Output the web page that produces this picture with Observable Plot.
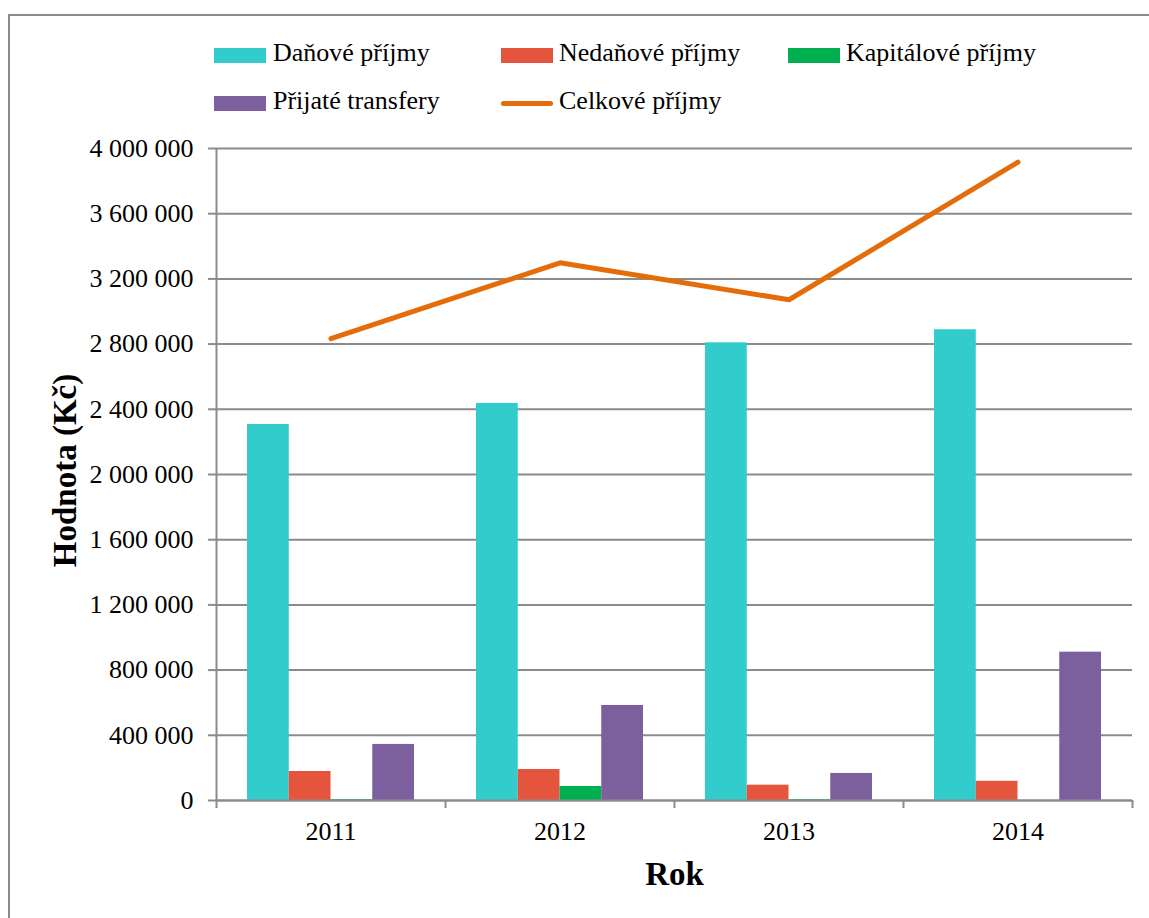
<!DOCTYPE html>
<html>
<head>
<meta charset="utf-8">
<script src="https://cdn.jsdelivr.net/npm/d3@7"></script>
<script src="https://cdn.jsdelivr.net/npm/@observablehq/plot@0.6"></script>
<style>
  html, body { margin: 0; padding: 0; background: #fff; overflow: hidden; }
  body { width: 1149px; height: 918px; position: relative; font-family: "Liberation Serif", "Times New Roman", serif; }
  #frame { position: absolute; left: 8px; top: 14px; width: 1300px; height: 1100px; border: 2px solid #8b8b8b; pointer-events: none; }
  #legend { position: relative; height: 130px; }
  .sw { position: absolute; }
  .lt { position: absolute; font-size: 26px; line-height: 26px; color: #000; white-space: nowrap; }
  #chart { position: relative; }
</style>
</head>
<body>
<div id="frame"></div>
<div id="legend"></div>
<div id="chart"></div>
<script>
// ---- data ----
const years = [2011, 2012, 2013, 2014];
const seriesNames = ["Daňové příjmy", "Nedaňové příjmy", "Kapitálové příjmy", "Přijaté transfery"];
const danove = [2307000, 2436000, 2808000, 2888000];
const nedanove = [178000, 190000, 94000, 118000];
const kapitalove = [4000, 86000, 4000, 0];
const transfery = [344000, 583000, 166000, 910000];
const lineName = "Celkové příjmy";
const celkove = [2833000, 3299000, 3072000, 3916000];
const yTicks = [0, 400000, 800000, 1200000, 1600000, 2000000, 2400000, 2800000, 3200000, 3600000, 4000000];
const yLabel = "Hodnota (Kč)";
const xLabel = "Rok";

const colors = ["#33CCCC", "#E5553D", "#00B050", "#7C609E"];
const lineColor = "#E46C0A";
const gray = "#8b8b8b";

// ---- legend (HTML) ----
const legend = document.getElementById("legend");
const legendItems = [
  {name: seriesNames[0], color: colors[0], kind: "rect", sx: 214, tx: 273, row: 0},
  {name: seriesNames[1], color: colors[1], kind: "rect", sx: 501, tx: 559, row: 0},
  {name: seriesNames[2], color: colors[2], kind: "rect", sx: 788, tx: 846, row: 0},
  {name: seriesNames[3], color: colors[3], kind: "rect", sx: 214, tx: 273, row: 1},
  {name: lineName, color: lineColor, kind: "line", sx: 501, tx: 559, row: 1}
];
for (const it of legendItems) {
  const sw = document.createElement("div");
  sw.className = "sw";
  const cy = it.row === 0 ? 55.5 : 103;
  if (it.kind === "rect") {
    sw.style.cssText = `left:${it.sx}px;top:${cy - 7.5}px;width:52px;height:15px;background:${it.color};`;
  } else {
    sw.style.cssText = `left:${it.sx}px;top:${cy - 2.5}px;width:52px;height:5px;border-radius:2.5px;background:${it.color};`;
  }
  legend.appendChild(sw);
  const t = document.createElement("div");
  t.className = "lt";
  t.textContent = it.name;
  t.style.left = it.tx + "px";
  t.style.top = (it.row === 0 ? 40.2 : 87.7) + "px";
  legend.appendChild(t);
}

// ---- build tables ----
const seriesValues = [danove, nedanove, kapitalove, transfery];
const bars = [];
seriesNames.forEach((s, i) => {
  years.forEach((y, j) => bars.push({year: y, series: s, idx: i, value: seriesValues[i][j]}));
});
const totals = years.map((y, j) => ({year: y, value: celkove[j]}));
const bounds = [years[0] - 0.5, ...years.map(y => y + 0.5)];

const barOffset = 0.1354; // fraction of category width before first bar
const barW = 0.1823;      // fraction of category width per bar

const fmt = d => d3.format(",")(d).replace(/,/g, " ");

const chart = Plot.plot({
  width: 1149,
  height: 788,
  marginLeft: 216,
  marginRight: 17,
  marginTop: 18,
  marginBottom: 118,
  style: {
    fontFamily: "'Liberation Serif', 'Times New Roman', serif",
    fontSize: "26px",
    color: "#000",
    background: "transparent",
    overflow: "visible"
  },
  x: {domain: [bounds[0], bounds[bounds.length - 1]]},
  y: {domain: [0, 4000000]},
  color: {domain: seriesNames, range: colors},
  marks: [
    Plot.gridY(yTicks, {stroke: gray, strokeWidth: 2, strokeOpacity: 1}),
    Plot.axisY(yTicks, {tickSize: 8, tickPadding: 15, tickFormat: fmt, stroke: gray, strokeWidth: 2, fill: "#000", label: null, fontSize: 26}),
    Plot.axisX(bounds, {tickSize: 8, tickFormat: () => "", stroke: gray, strokeWidth: 2, label: null}),
    Plot.axisX(years, {tickSize: 0, tickPadding: 21.5, tickFormat: d => String(d), fill: "#000", label: null, fontSize: 26}),
    Plot.ruleX([bounds[0]], {stroke: gray, strokeWidth: 2}),
    Plot.rectY(bars, {
      x1: d => d.year - 0.5 + barOffset + d.idx * barW,
      x2: d => d.year - 0.5 + barOffset + (d.idx + 1) * barW,
      y1: 0,
      y2: "value",
      fill: "series"
    }),
    Plot.ruleY([0], {stroke: gray, strokeWidth: 2}),
    Plot.lineY(totals, {x: "year", y: "value", stroke: lineColor, strokeWidth: 5, strokeLinecap: "round", strokeLinejoin: "miter"}),
    Plot.text([yLabel], {frameAnchor: "left", textAnchor: "middle", lineAnchor: "middle", rotate: -90, dx: -151, dy: -4, fontWeight: "bold", fontSize: 33, fill: "#000"}),
    Plot.text([xLabel], {frameAnchor: "bottom", textAnchor: "middle", lineAnchor: "middle", dy: 73.5, fontWeight: "bold", fontSize: 33, fill: "#000"})
  ]
});
document.getElementById("chart").appendChild(chart);
</script>
</body>
</html>
